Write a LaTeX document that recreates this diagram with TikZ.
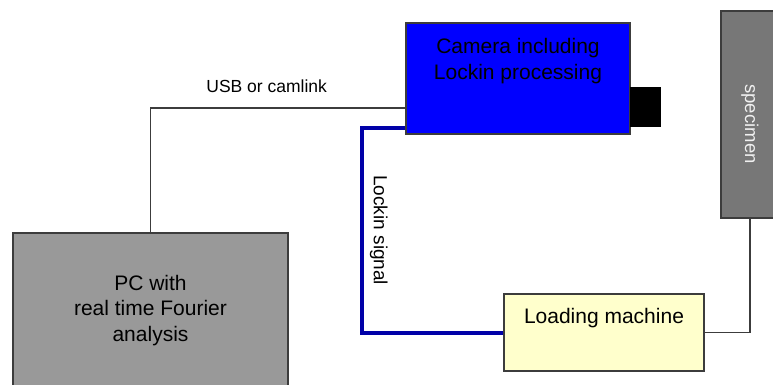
\documentclass[tikz,border=0pt]{standalone}
\usepackage{fontspec}
\setmainfont{Liberation Sans}
\usetikzlibrary{positioning}
\definecolor{pcgray}{HTML}{999999}
\definecolor{specgray}{HTML}{777777}
\definecolor{camblue}{HTML}{0000FF}
\definecolor{lockblue}{HTML}{0000A8}
\definecolor{loadyellow}{HTML}{FFFFCC}
\definecolor{edgegray}{HTML}{3C3C3C}
\tikzset{
    box/.style={rectangle, draw=edgegray, line width=1.3pt, inner sep=0pt},
    pcbox/.style={box, fill=pcgray, minimum width=275pt, minimum height=167pt},
    cambox/.style={box, fill=camblue, minimum width=224pt, minimum height=111pt},
    lensbox/.style={rectangle, fill=black, minimum width=31pt, minimum height=40pt, inner sep=0pt},
    loadbox/.style={box, fill=loadyellow, minimum width=200pt, minimum height=77pt},
    specbox/.style={box, fill=specgray, minimum width=58pt, minimum height=207pt},
    bigtext/.style={align=center, font=\fontsize{21}{25.5}\selectfont},
    wire/.style={draw=edgegray, line width=1.3pt},
    lockin/.style={draw=lockblue, line width=4pt}
}
\begin{document}
\begin{tikzpicture}[x=1pt, y=-1pt]
    \clip (0,0) rectangle (773,385);
    \fill[white] (0,0) rectangle (773,385);

    \node[pcbox] (pc) at (150.5, 316.5) {};
    \node[bigtext] (pctext) at (150.5, 310.5) {PC with\\real time Fourier\\analysis};

    \node[cambox] (cam) at (518, 78.5) {};
    \node[lensbox] (lens) at (645.5, 107) {};
    \node[bigtext] (camtext) at (518, 61) {Camera including\\Lockin processing};

    \node[loadbox] (load) at (604, 332.5) {};
    \node[bigtext] (loadtext) at (604, 318) {Loading machine};

    \node[specbox] (spec) at (750, 114.5) {};
    \node[rotate=-90, text=white!88!gray, font=\fontsize{18.5}{22}\selectfont] (spectext) at (750, 124) {specimen};

    % connections
    \draw[wire] (pc.north) |- (cam.west |- 0,108)
        node[pos=0.728, anchor=base, yshift=15.5pt, font=\fontsize{17.5}{21}\selectfont] {USB or camlink};
    \draw[lockin] (cam.west |- 0,128) -- (362,128) |- (load.west)
        node[pos=0.25, rotate=-90, anchor=south, inner sep=6pt, font=\fontsize{19}{22}\selectfont] {Lockin signal};
    \draw[wire] (spec.south) |- (load.east);
\end{tikzpicture}
\end{document}
